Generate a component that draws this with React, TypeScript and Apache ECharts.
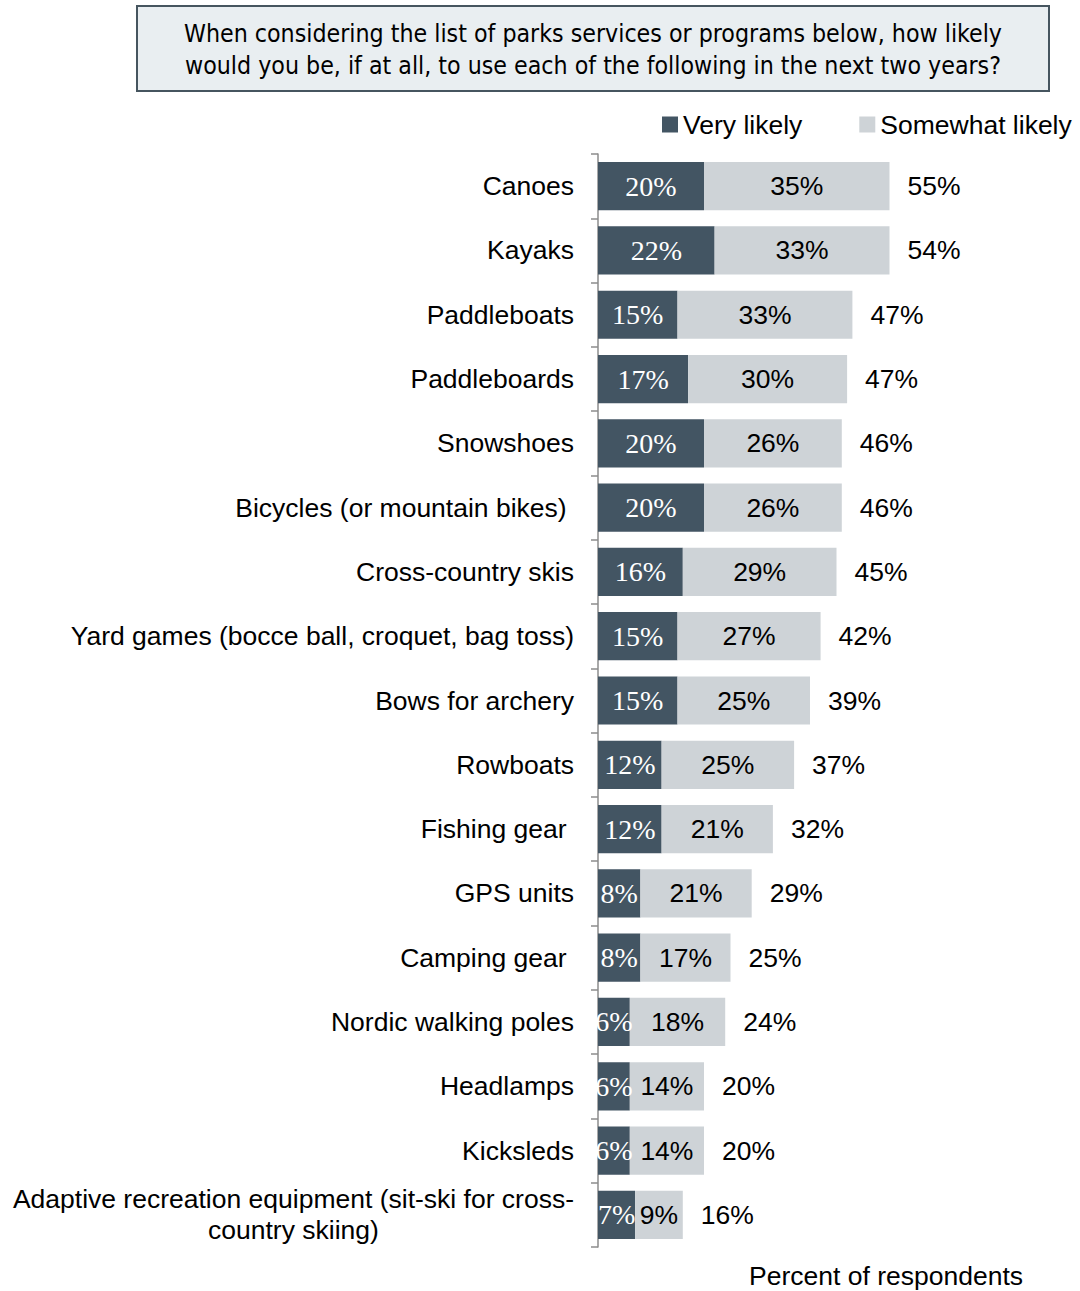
import React, { useEffect, useRef } from "react";
import * as echarts from "echarts";

const categories = [
  "Canoes",
  "Kayaks",
  "Paddleboats",
  "Paddleboards",
  "Snowshoes",
  "Bicycles (or mountain bikes) ",
  "Cross-country skis",
  "Yard games (bocce ball, croquet, bag toss)",
  "Bows for archery",
  "Rowboats",
  "Fishing gear ",
  "GPS units",
  "Camping gear ",
  "Nordic walking poles",
  "Headlamps",
  "Kicksleds",
  "Adaptive recreation equipment (sit-ski for cross-\ncountry skiing)",
];
const veryLikely = [20, 22, 15, 17, 20, 20, 16, 15, 15, 12, 12, 8, 8, 6, 6, 6, 7];
const somewhatLikely = [35, 33, 33, 30, 26, 26, 29, 27, 25, 25, 21, 21, 17, 18, 14, 14, 9];
const totals = [55, 54, 47, 47, 46, 46, 45, 42, 39, 37, 32, 29, 25, 24, 20, 20, 16];

const titleText =
  "When considering the list of parks services or programs below, how likely\nwould you be, if at all, to use each of the following in the next two years?";
const xAxisTitle = "Percent of respondents";

const SANS = "'Liberation Sans', Arial, sans-serif";
const SERIF = "'Liberation Serif', 'Times New Roman', serif";
const DARK = "#435563";
const LIGHT = "#ced3d7";
const FS = 26.5;

export default function App() {
  const ref = useRef<HTMLDivElement>(null);
  useEffect(() => {
    document.body.style.margin = "0";
    if (!ref.current) return;
    const chart = echarts.init(ref.current, undefined, { renderer: "svg" });
    chart.setOption({
      animation: false,
      backgroundColor: "#ffffff",
      textStyle: { fontFamily: SANS },
      legend: {
        data: ["Very likely", "Somewhat likely"],
        left: 662,
        top: 111,
        padding: 0,
        itemWidth: 16,
        itemHeight: 16,
        itemGap: 57,
        icon: "rect",
        textStyle: { fontSize: FS, color: "#000", fontFamily: SANS },
      },
      grid: { left: 598, top: 154, width: 477, height: 1093, containLabel: false },
      xAxis: {
        type: "value",
        min: 0,
        max: 90,
        show: false,
      },
      yAxis: {
        type: "category",
        inverse: true,
        data: categories,
        axisLine: { show: true, lineStyle: { color: "#8c8c8c", width: 1.5 } },
        axisTick: { show: true, length: 7, lineStyle: { color: "#8c8c8c", width: 1.5 } },
        axisLabel: {
          margin: 24,
          fontSize: FS,
          color: "#000",
          fontFamily: SANS,
          lineHeight: 31,
          formatter: (v: string) => (v.indexOf("\n") >= 0 ? "{c|" + v + "}" : v),
          rich: { c: { align: "center", fontSize: FS, lineHeight: 31, fontFamily: SANS, color: "#000" } },
        },
      },
      series: [
        {
          name: "Very likely",
          type: "bar",
          stack: "a",
          barCategoryGap: "25%",
          itemStyle: { color: DARK },
          label: {
            show: true,
            position: "inside",
            color: "#fff",
            fontFamily: SERIF,
            fontSize: 28,
            formatter: "{c}%",
          },
          data: veryLikely,
        },
        {
          name: "Somewhat likely",
          type: "bar",
          stack: "a",
          barCategoryGap: "25%",
          itemStyle: { color: LIGHT },
          label: {
            show: true,
            position: "inside",
            color: "#000",
            fontFamily: SANS,
            fontSize: FS,
            formatter: "{c}%",
          },
          data: somewhatLikely,
        },
        {
          name: "Total",
          type: "scatter",
          symbolSize: 0,
          silent: true,
          itemStyle: { opacity: 1 },
          label: {
            show: true,
            position: "right",
            distance: 18,
            color: "#000",
            opacity: 1,
            fontFamily: SANS,
            fontSize: FS,
            formatter: (p: any) => p.value[2] + "%",
          },
          data: totals.map((t, i) => [veryLikely[i] + somewhatLikely[i], i, t]),
        },
      ],
      graphic: [
        {
          type: "rect",
          shape: { x: 137, y: 6, width: 912, height: 85 },
          style: { fill: "#e9eef1", stroke: "#46555f", lineWidth: 2 },
        },
        {
          type: "text",
          x: 593,
          y: 49,
          style: {
            text: titleText,
            textAlign: "center",
            textVerticalAlign: "middle",
            fontSize: 24.7,
            lineHeight: 32,
            fontFamily: "'Liberation Sans Narrow', 'DejaVu Sans Condensed', sans-serif",
            fill: "#000",
          },
        },
        {
          type: "text",
          x: 749,
          y: 1276,
          style: {
            text: xAxisTitle,
            textVerticalAlign: "middle",
            fontSize: FS,
            fontFamily: SANS,
            fill: "#000",
          },
        },
      ],
    });
    return () => chart.dispose();
  }, []);
  return <div ref={ref} style={{ width: 1080, height: 1291 }} />;
}
